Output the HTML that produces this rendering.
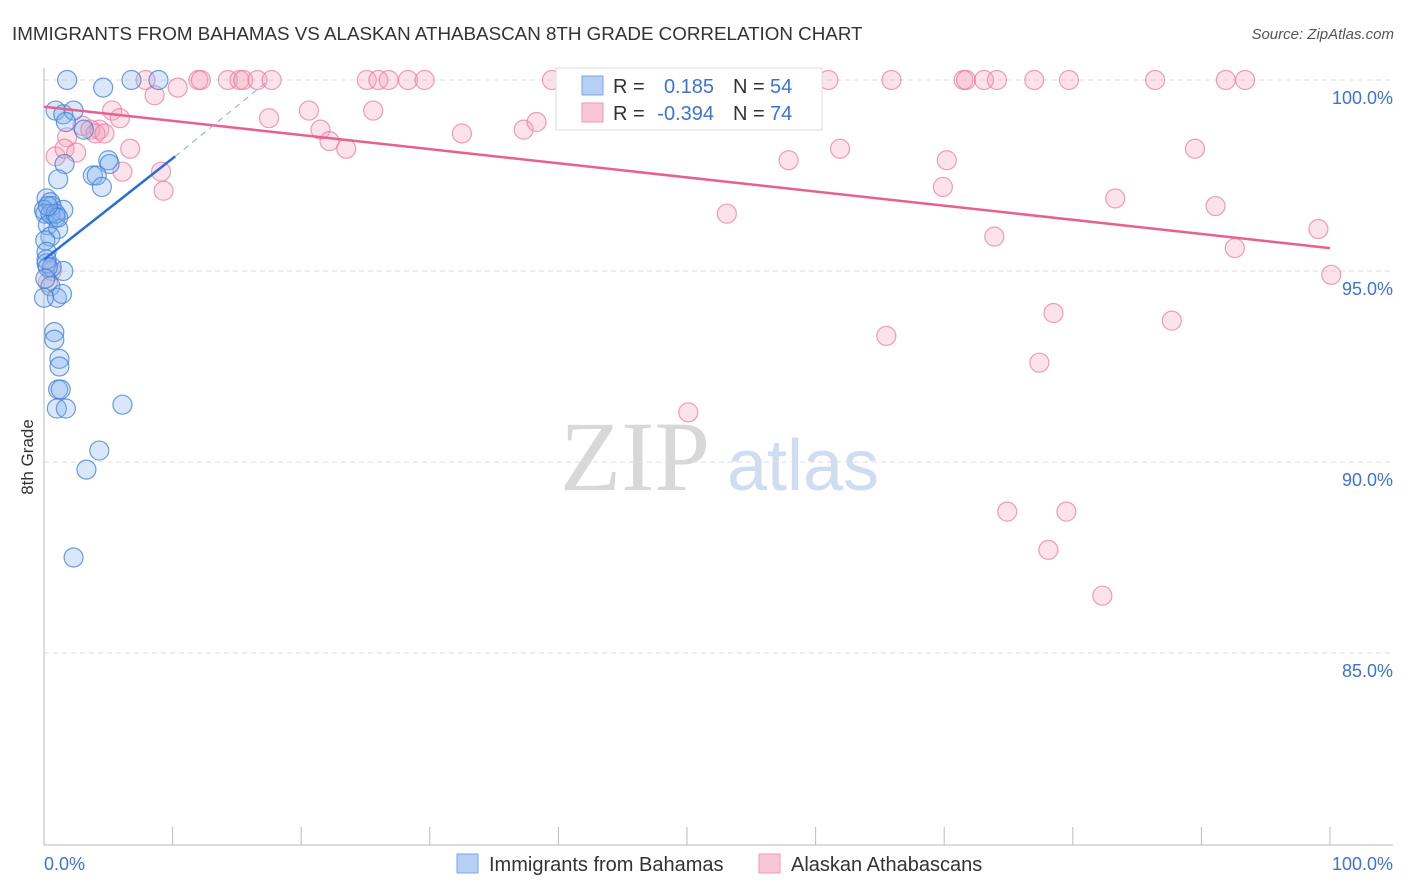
<!DOCTYPE html>
<html><head><meta charset="utf-8"><style>
body{margin:0;background:#fff;font-family:"Liberation Sans",sans-serif}
svg{display:block}
</style></head><body>
<svg id="c" width="1406" height="892">
<text x="12" y="40" font-size="18.8" fill="#333">IMMIGRANTS FROM BAHAMAS VS ALASKAN ATHABASCAN 8TH GRADE CORRELATION CHART</text>
<text x="1394" y="39" font-size="15" fill="#555" text-anchor="end" font-style="italic">Source: ZipAtlas.com</text>
<text x="33" y="457" font-size="17" fill="#333" text-anchor="middle" transform="rotate(-90 33 457)">8th Grade</text>
<g><text x="635" y="490" font-size="100" fill="#d8d8d8" text-anchor="middle" font-family="Liberation Serif,serif">ZIP</text><text x="803" y="490" font-size="72" fill="#cfdcf2" text-anchor="middle">atlas</text></g>
<g id="grid"></g><g id="axes"></g><g id="pts"></g><g id="lines"></g>
<g>
<rect x="556" y="68" width="266" height="62" fill="#fff" stroke="#ddd"/>
<rect x="582" y="76" width="21" height="19" fill="#b6d0f4" stroke="#7aa6e6"/>
<rect x="582" y="103" width="21" height="19" fill="#f9c6d5" stroke="#ee9ab4"/>
<text x="613" y="93" font-size="20" fill="#333">R =</text><text x="714" y="93" font-size="20" fill="#3b73d6" text-anchor="end">0.185</text>
<text x="733" y="93" font-size="20" fill="#333">N =</text><text x="770" y="93" font-size="20" fill="#3b73d6">54</text>
<text x="613" y="120" font-size="20" fill="#333">R =</text><text x="714" y="120" font-size="20" fill="#3b73d6" text-anchor="end">-0.394</text>
<text x="733" y="120" font-size="20" fill="#333">N =</text><text x="770" y="120" font-size="20" fill="#3b73d6">74</text>
</g>
<g>
<rect x="457" y="854" width="21" height="19" fill="#b6d0f4" stroke="#7aa6e6"/>
<text x="489" y="871" font-size="20" fill="#333">Immigrants from Bahamas</text>
<rect x="759" y="854" width="21" height="19" fill="#f9c6d5" stroke="#ee9ab4"/>
<text x="791" y="871" font-size="20" fill="#333">Alaskan Athabascans</text>
</g>
</svg>
<script>
const yTicks=[100,95,90,85];
const yTickLabels=["100.0%","95.0%","90.0%","85.0%"];
const xTickLabels=["0.0%","100.0%"];
const blueX=[1.8,4.6,6.8,8.9,0.9,1.5,2.3,1.7,1.6,1.1,5,5.1,3.8,4.1,4.5,0.2,0.5,0.6,0,1.5,0.1,0.9,0.3,1.1,0.5,0.1,0.2,0.2,1.5,0.6,0.5,1,1.4,0,0.8,0.8,1.2,1.2,1.1,1.3,1,1.7,6.1,4.3,3.3,2.3,0.2,0.3,0.1,0.5,0.9,1.1,3.1,0.3];
const blueY=[100,99.8,100,100,99.2,99.1,99.2,98.9,97.8,97.4,97.9,97.8,97.5,97.5,97.2,96.9,96.8,96.7,96.6,96.6,96.5,96.4,96.2,96.1,95.9,95.8,95.5,95.2,95,95.1,94.6,94.3,94.4,94.3,93.4,93.2,92.7,92.5,91.9,91.9,91.4,91.4,91.5,90.3,89.8,87.5,95.3,95.1,94.8,96.5,96.5,96.4,98.7,96.7];
const pinkX=[7.9,8.6,10.4,12,12.2,14.3,15.2,15.5,16.6,17.7,25.1,26,26.8,28.3,29.6,39.5,41.3,41.7,61,65.9,71.5,71.7,73.1,74.1,77,79.7,86.4,91.9,93.4,5.3,5.9,4.3,3.0,3.6,4.0,4.7,1.8,0.9,1.6,2.5,6.7,6.1,9.1,9.3,17.5,20.6,25.6,21.5,22.2,23.5,32.5,37.3,38.3,57.9,61.9,70.2,69.9,53.1,73.9,83.3,89.5,91.1,92.6,99.1,100.1,65.5,78.5,77.4,87.7,50.1,74.9,79.5,78.1,82.3,0.6,0.3];
const pinkY=[100,99.6,99.8,100,100,100,100,100,100,100,100,100,100,100,100,100,100,100,100,100,100,100,100,100,100,100,100,100,100,99.2,99.0,98.7,98.8,98.7,98.6,98.6,98.5,98.0,98.2,98.1,98.2,97.6,97.6,97.1,99.0,99.2,99.2,98.7,98.4,98.2,98.6,98.7,98.9,97.9,98.2,97.9,97.2,96.5,95.9,96.9,98.2,96.7,95.6,96.1,94.9,93.3,93.9,92.6,93.7,91.3,88.7,88.7,87.7,86.5,95.0,94.7];
const blueFit=[[0,95.3],[10.2,98.0]];
const blueExt=[[10.2,98.0],[17.5,100]];
const pinkFit=[[0,99.3],[100,95.6]];
const NS="http://www.w3.org/2000/svg";
const X=v=>44+v*12.86, Y=v=>80+(100-v)*38.2;
function mk(t,a,p){const e=document.createElementNS(NS,t);for(const k in a)e.setAttribute(k,a[k]);p.appendChild(e);return e;}
const grid=document.getElementById('grid'),axes=document.getElementById('axes'),pts=document.getElementById('pts'),lines=document.getElementById('lines');
yTicks.forEach((t,i)=>{
 const g=mk('line',{x1:44,x2:1393,y1:Y(t),y2:Y(t),stroke:'#ddd','stroke-dasharray':'5,4'},grid);
 
 
 const l=mk('text',{x:1393,y:Y(t)+24,'font-size':18,fill:'#3b73d6','text-anchor':'end'},axes);
 l.textContent=yTickLabels[i];
 
 
});
const ya=mk('line',{x1:44,x2:44,y1:68,y2:845,stroke:'#bbb'},axes);


const xa=mk('line',{x1:44,x2:1393,y1:845,y2:845,stroke:'#bbb'},axes);


for(let i=0;i<=10;i++){const t=mk('line',{x1:X(i*10),x2:X(i*10),y1:827,y2:845,stroke:'#bbb'},axes);
 
 }
[[0,'start',X(0)],[1,'end',1393]].forEach(([i,a,x])=>{const t=mk('text',{x:x,y:870,'font-size':18,fill:'#3b73d6','text-anchor':a},axes);t.textContent=xTickLabels[i];
 
 });
pinkX.forEach((v,i)=>{const c=mk('circle',{cx:X(v),cy:Y(pinkY[i]),r:9.5,fill:'rgba(244,160,186,0.3)',stroke:'rgba(232,120,155,0.7)','stroke-width':1.2},pts);
 
 });
blueX.forEach((v,i)=>{const c=mk('circle',{cx:X(v),cy:Y(blueY[i]),r:9.5,fill:'rgba(130,175,235,0.3)',stroke:'rgba(60,125,215,0.75)','stroke-width':1.2},pts);
 
 });
function ln(p,s,w,d,n){const e=mk('line',{x1:X(p[0][0]),y1:Y(p[0][1]),x2:X(p[1][0]),y2:Y(p[1][1]),stroke:s,'stroke-width':w},lines);if(d)e.setAttribute('stroke-dasharray',d);
 
 }
ln(pinkFit,'#e8608e',2.5,null,'athabascan-trend-line');
ln(blueFit,'#2a6fd6',2.5,null,'bahamas-trend-line');
ln(blueExt,'#8aa9d8',1,'6,5','bahamas-trend-extension');
</script>
</body></html>
